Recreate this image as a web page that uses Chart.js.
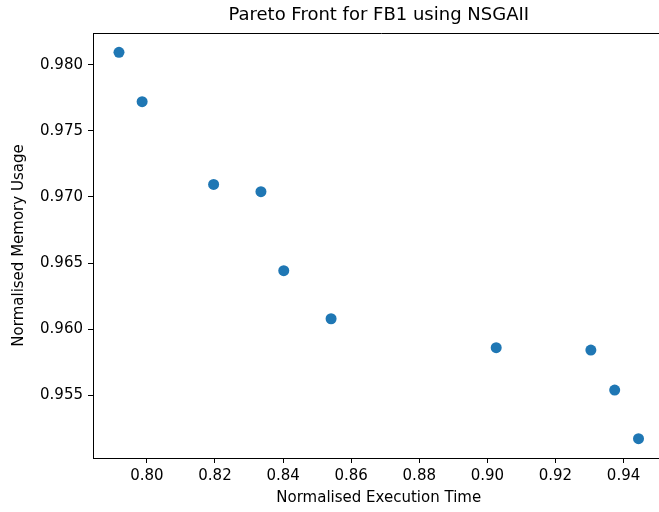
<!DOCTYPE html>
<html>
<head>
<meta charset="utf-8">
<script src="https://cdn.jsdelivr.net/npm/chart.js@4"></script>
<style>
  html, body { margin: 0; padding: 0; background: #fff; overflow: hidden; }
  #clip { width: 659px; height: 512px; overflow: hidden; position: relative; }
  #paretoChart { position: absolute; left: 0; top: 0; }
</style>
</head>
<body>
<div id="clip"><canvas id="paretoChart" width="670" height="512"></canvas></div>
<script>
// values
const execTime = [0.7918, 0.7986, 0.8196, 0.8335, 0.8402, 0.8541, 0.9026, 0.9304, 0.9374, 0.9444];
const memUsage = [0.98095, 0.97721, 0.97095, 0.97040, 0.96442, 0.96078, 0.95859, 0.95841, 0.95538, 0.95170];
const xTicks = [0.80, 0.82, 0.84, 0.86, 0.88, 0.90, 0.92, 0.94];
const yTicks = [0.955, 0.960, 0.965, 0.970, 0.975, 0.980];

const points = execTime.map((x, i) => ({ x: x, y: memUsage[i] }));

// matplotlib-like 5% margins
const xPad = (Math.max(...execTime) - Math.min(...execTime)) * 0.05;
const yPad = (Math.max(...memUsage) - Math.min(...memUsage)) * 0.05;

const font = 'DejaVu Sans';

// title centred over the axes, plus the top frame line (right side is cut off in the reference)
const frame = {
    id: 'frame',
    afterDraw(chart) {
        const { ctx, chartArea: a } = chart;
        ctx.save();
        ctx.strokeStyle = '#000';
        ctx.lineWidth = 1;
        ctx.beginPath();
        ctx.moveTo(a.left, a.top + 0.5);
        ctx.lineTo(chart.width, a.top + 0.5);
        ctx.stroke();
        ctx.fillStyle = '#000';
        ctx.font = '18px "' + font + '"';
        ctx.textAlign = 'center';
        ctx.textBaseline = 'middle';
        ctx.fillText('Pareto Front for FB1 using NSGAII', (a.left + a.right) / 2, 15);
        ctx.restore();
    }
};

const config = {
    type: 'scatter',
    data: {
        datasets: [{
            data: points,
            backgroundColor: '#1f77b4',
            borderWidth: 0,
            pointRadius: 5.5,
            pointHoverRadius: 5.5
        }]
    },
    options: {
        responsive: false,
        animation: false,
        devicePixelRatio: 1,
        layout: { padding: { left: 0, right: 5, top: 33, bottom: 0 } },
        plugins: { legend: { display: false }, tooltip: { enabled: false } },
        scales: {
            x: {
                type: 'linear',
                min: Math.min(...execTime) - xPad,
                max: Math.max(...execTime) + xPad,
                afterBuildTicks: s => { s.ticks = xTicks.map(v => ({ value: v })); },
                afterFit: s => { s.height = 54; },
                ticks: {
                    color: '#000',
                    font: { family: font, size: 15 },
                    padding: 4,
                    maxRotation: 0,
                    callback: v => v.toFixed(2)
                },
                grid: { drawOnChartArea: false, drawTicks: true, tickLength: 5, color: '#000' },
                border: { display: true, color: '#000', width: 1 },
                title: {
                    display: true,
                    text: 'Normalised Execution Time',
                    color: '#000',
                    font: { family: font, size: 15 },
                    padding: { top: 0, bottom: 5 }
                }
            },
            y: {
                type: 'linear',
                min: Math.min(...memUsage) - yPad,
                max: Math.max(...memUsage) + yPad,
                afterBuildTicks: s => { s.ticks = yTicks.map(v => ({ value: v })); },
                afterFit: s => { s.width = 93; },
                ticks: {
                    color: '#000',
                    font: { family: font, size: 15 },
                    padding: 5,
                    callback: v => v.toFixed(3)
                },
                grid: { drawOnChartArea: false, drawTicks: true, tickLength: 5, color: '#000' },
                border: { display: true, color: '#000', width: 1 },
                title: {
                    display: true,
                    text: 'Normalised Memory Usage',
                    color: '#000',
                    font: { family: font, size: 15 },
                    padding: { top: 10, bottom: 0 }
                }
            }
        }
    },
    plugins: [frame]
};

const paretoChart = new Chart(document.getElementById('paretoChart'), config);
</script>
</body>
</html>
